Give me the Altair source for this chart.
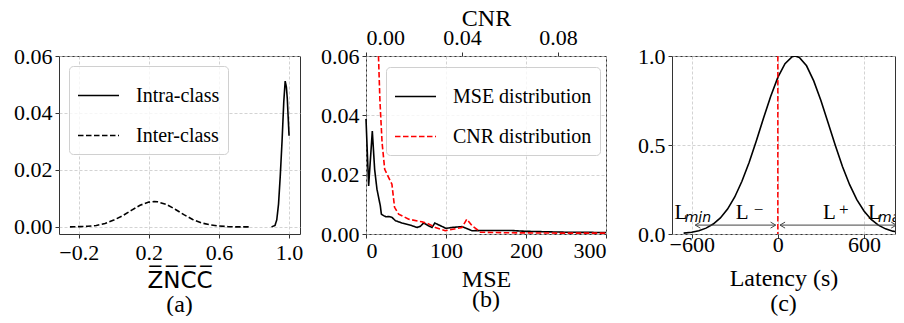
import altair as alt
import pandas as pd

FONT = "Liberation Serif"

# ---------------- data ----------------
# (a) ZNCC distributions
intra_x = [0.90, 0.92, 0.93, 0.94, 0.95, 0.96, 0.97, 0.978, 0.985, 0.99, 1.0]
intra_y = [0.0, 0.0005, 0.0025, 0.008, 0.018, 0.030, 0.044, 0.0512, 0.049, 0.045, 0.032]
inter_x = [-0.25, -0.2, -0.15, -0.1, -0.05, 0.0, 0.05, 0.1, 0.15, 0.2, 0.23, 0.25,
           0.3, 0.35, 0.4, 0.45, 0.5, 0.55, 0.6, 0.65, 0.7, 0.78]
inter_y = [0.0, 0.0001, 0.0002, 0.0005, 0.0012, 0.0024, 0.0039, 0.0058, 0.0076, 0.0087,
           0.0089, 0.0088, 0.0079, 0.0062, 0.0043, 0.0026, 0.0014, 0.0007, 0.0003,
           0.0001, 0.0, 0.0]

# (b) MSE / CNR distributions
mse_x = [0, 3.3, 7.9, 10.8, 13.7, 15.8, 17.9, 19.2, 22, 25, 28.3, 32.5, 36.7, 45, 57.5,
         63.8, 68, 72, 78, 82.5, 86, 93, 100, 107.5, 120, 132.5, 150, 180, 200, 250, 300]
mse_y = [0.0388, 0.0162, 0.0347, 0.0218, 0.0151, 0.0123, 0.0095, 0.0067, 0.0062, 0.0058,
         0.0059, 0.0056, 0.0045, 0.0037, 0.0028, 0.0022, 0.0026, 0.0037, 0.0028, 0.0022,
         0.0037, 0.0028, 0.0019, 0.0022, 0.0025, 0.0011, 0.0012, 0.0012, 0.0009, 0.0006,
         0.0005]
cnr_x = [0.0052, 0.0058, 0.0067, 0.0078, 0.0094, 0.0108, 0.0119, 0.0136, 0.0178, 0.0233,
         0.0261, 0.0289, 0.0330, 0.0400, 0.0420, 0.0442, 0.0477, 0.06, 0.08, 0.1]
cnr_y = [0.06, 0.045, 0.0308, 0.0218, 0.0191, 0.0168, 0.0090, 0.0067, 0.0050, 0.0041,
         0.0034, 0.0022, 0.0011, 0.0022, 0.0050, 0.0028, 0.0006, 0.0004, 0.0003, 0.0003]

# (c) latency curve
lat_x = [-656, -600, -550, -500, -450, -400, -350, -300, -250, -200, -150, -100, -50, 0,
         50, 100, 120, 150, 200, 250, 300, 350, 400, 450, 500, 550, 600, 650, 700, 750,
         800, 850, 870]
lat_y = [0.005, 0.010, 0.018, 0.033, 0.056, 0.090, 0.140, 0.208, 0.296, 0.402, 0.523,
         0.650, 0.773, 0.880, 0.957, 0.996, 1.0, 0.992, 0.945, 0.860, 0.750, 0.625, 0.498,
         0.379, 0.277, 0.193, 0.129, 0.082, 0.050, 0.029, 0.016, 0.009, 0.007]
arrow_from = [-575, 15]
arrow_to = [-15, 825]
arrow_y = [0.05, 0.05]
L_x = [-719, -293, 314, 628]
L_text = ["L", "L", "L", "L"]
sub_x = [-649, 698]
sub_text = ["min", "max"]
sup_x = [-167, 426]
sup_text = ["\u2212", "+"]

# ---------------- helpers ----------------
def ax(**kw):
    base = dict(labelFont=FONT, labelFontSize=22, titleFont=FONT, titleFontSize=24,
                titleFontWeight="normal", labelColor="black", titleColor="black",
                tickColor="#333", tickSize=4, tickWidth=1, domain=False, labelPadding=3,
                grid=True, gridColor="#c8c8c8", gridDash=[3, 2], gridWidth=0.8,
                titlePadding=4)
    base.update(kw)
    return alt.Axis(**base)


def sub_title(t, off):
    return alt.TitleParams(t, orient="bottom", font=FONT, fontSize=24, fontWeight="normal",
                           color="black", anchor="middle", offset=off)


W, H = 241, 178

# ---------------- (a) ----------------
dfa = pd.concat([
    pd.DataFrame({"x": intra_x, "y": intra_y, "s": "Intra-class"}),
    pd.DataFrame({"x": inter_x, "y": inter_y, "s": "Inter-class"}),
])
a = alt.Chart(dfa).mark_line(color="black", strokeWidth=1.6).encode(
    x=alt.X("x:Q", scale=alt.Scale(domain=[-0.3125, 1.0625], nice=False, zero=False),
            axis=ax(values=[-0.2, 0.2, 0.6, 1.0], format=".1f", labelPadding=4,
                    title="Z\u0305N\u0305C\u0305C\u0305", titleFont="DejaVu Sans",
                    titleFontSize=23, titlePadding=6)),
    y=alt.Y("y:Q", scale=alt.Scale(domain=[-0.0025, 0.06], nice=False, zero=False),
            axis=ax(values=[0, 0.02, 0.04, 0.06], format=".2f", title=None)),
    strokeDash=alt.StrokeDash("s:N", scale=alt.Scale(domain=["Intra-class", "Inter-class"],
                                                      range=[[1, 0], [5.5, 2.5]]),
                              legend=alt.Legend(title=None, orient="none", legendX=10,
                                                legendY=10, symbolStrokeColor="black")),
).properties(width=W, height=H, title=sub_title("(a)", 1))

# ---------------- (b) ----------------
names = ["MSE distribution", "CNR distribution"]
cscale = alt.Scale(domain=names, range=["black", "red"])
dscale = alt.Scale(domain=names, range=[[1, 0], [5.5, 2.5]])
legb = alt.Legend(title=None, orient="none", legendX=20, legendY=11)
yb = alt.Y("y:Q", scale=alt.Scale(domain=[0, 0.06], nice=False),
           axis=ax(values=[0, 0.02, 0.04, 0.06], format=".2f", title=None))
dfm = pd.DataFrame({"mse": mse_x, "y": mse_y, "s": names[0]})
dfc = pd.DataFrame({"cnr": cnr_x, "y": cnr_y, "s": names[1]})
b1 = alt.Chart(dfm).mark_line(strokeWidth=1.6).encode(
    x=alt.X("mse:Q", scale=alt.Scale(domain=[0, 300], nice=False),
            axis=ax(values=[0, 100, 200, 300], format="d", title="MSE", labelPadding=2,
                    titlePadding=6)),
    y=yb,
    color=alt.Color("s:N", scale=cscale, legend=legb),
    strokeDash=alt.StrokeDash("s:N", scale=dscale, legend=legb),
)
b2 = alt.Chart(dfc).mark_line(strokeWidth=1.6, clip=True).encode(
    x=alt.X("cnr:Q", scale=alt.Scale(domain=[0, 0.1], nice=False),
            axis=ax(orient="top", values=[0, 0.04, 0.08], format=".2f", title="CNR",
                    grid=False, labelPadding=3, titlePadding=-4)),
    y=yb,
    color=alt.Color("s:N", scale=cscale, legend=legb),
    strokeDash=alt.StrokeDash("s:N", scale=dscale, legend=legb),
)
b = alt.layer(b1, b2).resolve_scale(x="independent").properties(
    width=240, height=H, title=sub_title("(b)", -3))

# ---------------- (c) ----------------
xc = alt.X("x:Q", scale=alt.Scale(domain=[-737, 816], nice=False, zero=False),
           axis=ax(values=[-600, 0, 600], format="d", title="Latency (s)", labelPadding=-4,
                   titlePadding=11))
yc = alt.Y("y:Q", scale=alt.Scale(domain=[0, 1], nice=False),
           axis=ax(values=[0, 0.5, 1.0], format=".1f", title=None))
c_line = alt.Chart(pd.DataFrame({"x": lat_x, "y": lat_y})).mark_line(
    color="black", strokeWidth=1.6, clip=True).encode(x=xc, y=yc)
c_vline = alt.Chart(pd.DataFrame({"x": [0]})).mark_rule(
    color="red", strokeDash=[5.5, 2.5], strokeWidth=1.5).encode(x=xc)
dfar = pd.DataFrame({"x": arrow_from, "x2": arrow_to, "y": arrow_y})
c_arr = alt.Chart(dfar).mark_rule(color="#444", strokeWidth=1, clip=True).encode(
    x=xc, x2="x2:Q", y=yc)
c_hl = alt.Chart(pd.DataFrame({"x": arrow_from, "y": arrow_y})).mark_point(
    shape="M1.7,-1L0,0L1.7,1", filled=False, size=36, color="#444", strokeWidth=1,
    opacity=1, clip=True).encode(x=xc, y=yc)
c_hr = alt.Chart(pd.DataFrame({"x": arrow_to, "y": arrow_y})).mark_point(
    shape="M-1.7,-1L0,0L-1.7,1", filled=False, size=36, color="#444", strokeWidth=1,
    opacity=1, clip=True).encode(x=xc, y=yc)
c_L = alt.Chart(pd.DataFrame({"x": L_x, "y": [0.085] * 4, "t": L_text})).mark_text(
    align="left", baseline="alphabetic", font=FONT, fontSize=21, color="black",
    clip=True).encode(x=xc, y=yc, text="t:N")
c_sub = alt.Chart(pd.DataFrame({"x": sub_x, "y": [0.07] * 2, "t": sub_text})).mark_text(
    align="left", baseline="alphabetic", font="DejaVu Sans", fontStyle="italic",
    fontSize=14, color="black", clip=True).encode(x=xc, y=yc, text="t:N")
c_sup = alt.Chart(pd.DataFrame({"x": sup_x, "y": [0.135] * 2, "t": sup_text})).mark_text(
    align="left", baseline="middle", font=FONT, fontSize=17, color="black",
    clip=True).encode(x=xc, y=yc, text="t:N")
c = alt.layer(c_line, c_vline, c_arr, c_hl, c_hr, c_L, c_sub, c_sup).properties(
    width=223, height=H, title=sub_title("(c)", 2))

chart = alt.hconcat(a, b, c, spacing=66, bounds="flush").resolve_scale(
    color="independent", strokeDash="independent"
).resolve_legend(
    color="independent", strokeDash="independent"
).properties(
    padding={"left": 5, "top": -3, "right": 0, "bottom": -2}
).configure_view(stroke="#333", strokeWidth=1).configure_legend(
    labelFont=FONT, labelFontSize=20, labelColor="black", symbolType="stroke",
    symbolSize=1681, symbolStrokeWidth=1.6, labelOffset=16, rowPadding=8, padding=8,
    strokeColor="#d0d0d0", fillColor="rgba(255,255,255,0.8)", cornerRadius=4,
    labelLimit=0, labelBaseline="middle"
)

chart.save("out.html", embed_options={"renderer": "svg", "actions": False})
